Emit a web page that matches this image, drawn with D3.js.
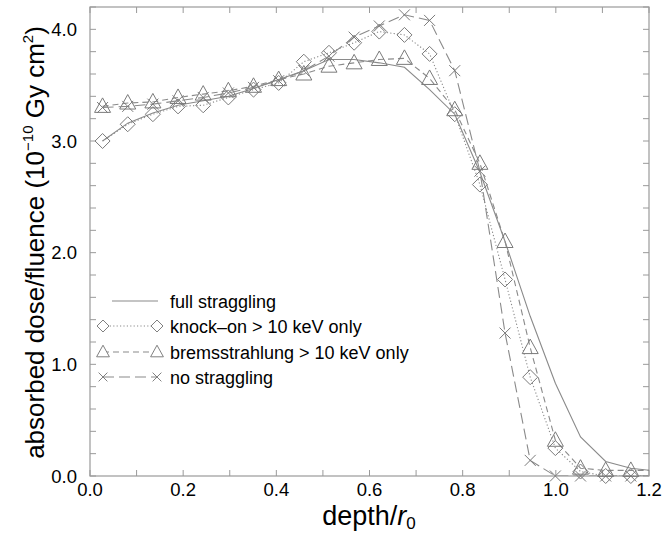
<!DOCTYPE html>
<html>
<head>
<meta charset="utf-8">
<script src="https://cdn.jsdelivr.net/npm/d3@7"></script>
<style>
  body { margin: 0; background: #fff; }
  text { font-family: "Liberation Sans", Arial, Helvetica, sans-serif; }
</style>
</head>
<body>
<svg id="chart" width="665" height="535"></svg>
<script>
// depth / r0 at which each value was scored
var depth = [0.027, 0.081, 0.135, 0.189, 0.243, 0.297, 0.351, 0.405, 0.459, 0.513, 0.567,
             0.621, 0.675, 0.729, 0.783, 0.837, 0.891, 0.945, 0.999, 1.053, 1.107, 1.161, 1.215];

// absorbed dose / fluence (1e-10 Gy cm^2)
var fullStraggling = [3.00, 3.16, 3.25, 3.32, 3.36, 3.40, 3.47, 3.55, 3.63, 3.73, 3.73,
                      3.70, 3.66, 3.46, 3.24, 2.72, 2.10, 1.43, 0.83, 0.35, 0.13, 0.07, 0.045];
var knockOn = [3.00, 3.15, 3.24, 3.31, 3.32, 3.39, 3.46, 3.52, 3.71, 3.79, 3.88,
               3.98, 3.95, 3.78, 3.24, 2.61, 1.76, 0.885, 0.25, 0.04, 0.0, 0.0, 0.0];
var brems = [3.31, 3.34, 3.35, 3.39, 3.42, 3.45, 3.49, 3.55, 3.60, 3.67, 3.70,
             3.73, 3.74, 3.56, 3.28, 2.80, 2.10, 1.15, 0.32, 0.07, 0.05, 0.05, 0.05];
var noStraggling = [3.30, 3.31, 3.33, 3.36, 3.39, 3.43, 3.48, 3.54, 3.63, 3.76, 3.93,
                    4.03, 4.13, 4.08, 3.63, 2.73, 1.28, 0.14, 0.0, 0.0, 0.0, 0.0, 0.0];

var xTicks = [0.0, 0.2, 0.4, 0.6, 0.8, 1.0, 1.2];
var yTicks = [0.0, 1.0, 2.0, 3.0, 4.0];

var seriesList = [
    { name: "full straggling", values: fullStraggling, dash: null, marker: null },
    { name: "knock\u2013on > 10 keV only", values: knockOn, dash: "1.2,2.2", marker: "diamond" },
    { name: "bremsstrahlung > 10 keV only", values: brems, dash: "6,4", marker: "triangle" },
    { name: "no straggling", values: noStraggling, dash: "11,5", marker: "cross" }
];

var svg = d3.select("#chart");
var pLeft = 90, pRight = 649, pTop = 7, pBottom = 476;
var x = d3.scaleLinear().domain([0, 1.2]).range([pLeft, pRight]);
var y = d3.scaleLinear().domain([0, 4.2]).range([pBottom, pTop]);

var lineColor = "#8a8a8a";
var markColor = "#7a7a7a";
var frameColor = "#9a9a9a";

svg.append("defs").append("clipPath").attr("id", "plotClip")
    .append("rect").attr("x", pLeft).attr("y", 0)
    .attr("width", pRight - pLeft).attr("height", pBottom);

// marker paths centred on 0,0
function markerPath(kind) {
    if (kind == "diamond") {
        return "M0,-7.5L7.5,0L0,7.5L-7.5,0Z";
    } else if (kind == "triangle") {
        return "M0,-8.5L8,6L-8,6Z";
    } else if (kind == "cross") {
        return "M-5.5,-5.5L5.5,5.5M-5.5,5.5L5.5,-5.5";
    }
    return "";
}

// ticks: inside, on all four sides
var xMinor = d3.range(0, 13).map(function(i) { return i / 10; });
var yMinor = d3.range(0, 22).map(function(i) { return i / 5; });

var ticks = svg.append("g").attr("stroke", frameColor).attr("stroke-width", 1);
xMinor.forEach(function(v) {
    var len = 6;
    ticks.append("line").attr("x1", x(v)).attr("x2", x(v))
        .attr("y1", pBottom).attr("y2", pBottom - len);
    ticks.append("line").attr("x1", x(v)).attr("x2", x(v))
        .attr("y1", pTop).attr("y2", pTop + len);
});
yMinor.forEach(function(v) {
    var len = 6;
    ticks.append("line").attr("x1", pLeft).attr("x2", pLeft + len)
        .attr("y1", y(v)).attr("y2", y(v));
    ticks.append("line").attr("x1", pRight).attr("x2", pRight - len)
        .attr("y1", y(v)).attr("y2", y(v));
});

svg.append("rect").attr("x", pLeft).attr("y", pTop)
    .attr("width", pRight - pLeft).attr("height", pBottom - pTop)
    .attr("fill", "none").attr("stroke", frameColor).attr("stroke-width", 1.2);

// tick labels
svg.append("g").selectAll("text").data(xTicks).enter().append("text")
    .attr("x", function(d) { return x(d); })
    .attr("y", 496)
    .attr("text-anchor", "middle")
    .attr("font-size", 18.5)
    .text(function(d) { return d.toFixed(1); });

svg.append("g").selectAll("text").data(yTicks).enter().append("text")
    .attr("x", 77)
    .attr("y", function(d) { return y(d) + 6.5; })
    .attr("text-anchor", "end")
    .attr("font-size", 18.5)
    .text(function(d) { return d.toFixed(1); });

// axis titles
var xt = svg.append("text").attr("x", 369).attr("y", 525)
    .attr("text-anchor", "middle").attr("font-size", 27);
xt.append("tspan").text("depth/");
xt.append("tspan").attr("font-style", "italic").text("r");
xt.append("tspan").attr("font-size", 17).attr("dy", 4).text("0");

var yt = svg.append("text")
    .attr("transform", "translate(44," + ((pTop + pBottom) / 2 + 1) + ") rotate(-90)")
    .attr("text-anchor", "middle").attr("font-size", 26);
yt.append("tspan").text("absorbed dose/fluence (10");
yt.append("tspan").attr("font-size", 15).attr("dy", -11).text("\u221210");
yt.append("tspan").attr("dy", 11).text(" Gy cm");
yt.append("tspan").attr("font-size", 15).attr("dy", -11).text("2");
yt.append("tspan").attr("dy", 11).text(")");

// lines
var line = d3.line()
    .x(function(d) { return x(d[0]); })
    .y(function(d) { return y(d[1]); });

var plot = svg.append("g");
seriesList.forEach(function(s) {
    var pts = depth.map(function(d, i) { return [d, s.values[i]]; });
    plot.append("path")
        .attr("d", line(pts))
        .attr("clip-path", "url(#plotClip)")
        .attr("fill", "none")
        .attr("stroke", lineColor)
        .attr("stroke-width", 1.1)
        .attr("stroke-dasharray", s.dash);
    if (s.marker) {
        plot.append("g").selectAll("path")
            .data(pts.filter(function(p) { return p[0] <= 1.2; }))
            .enter().append("path")
            .attr("transform", function(p) {
                return "translate(" + x(p[0]) + "," + y(p[1]) + ")";
            })
            .attr("d", markerPath(s.marker))
            .attr("fill", "none")
            .attr("stroke", markColor)
            .attr("stroke-width", 1);
    }
});

// legend
var legY = [301, 326, 352, 377];
var legend = svg.append("g");
seriesList.forEach(function(s, i) {
    var ly = legY[i];
    var x1 = s.marker ? 103 : 112, x2 = s.marker ? 157 : 158;
    legend.append("line").attr("x1", x1).attr("x2", x2)
        .attr("y1", ly).attr("y2", ly)
        .attr("stroke", lineColor).attr("stroke-width", 1.1)
        .attr("stroke-dasharray", s.dash);
    if (s.marker) {
        [103, 157].forEach(function(mx) {
            legend.append("path")
                .attr("transform", "translate(" + mx + "," + ly + ") scale(0.8)")
                .attr("d", markerPath(s.marker))
                .attr("fill", "#fff")
                .attr("stroke", markColor).attr("stroke-width", 1.2);
        });
    }
    legend.append("text").attr("x", 170).attr("y", ly + 6.5)
        .attr("font-size", 18).text(s.name);
});
</script>
</body>
</html>
